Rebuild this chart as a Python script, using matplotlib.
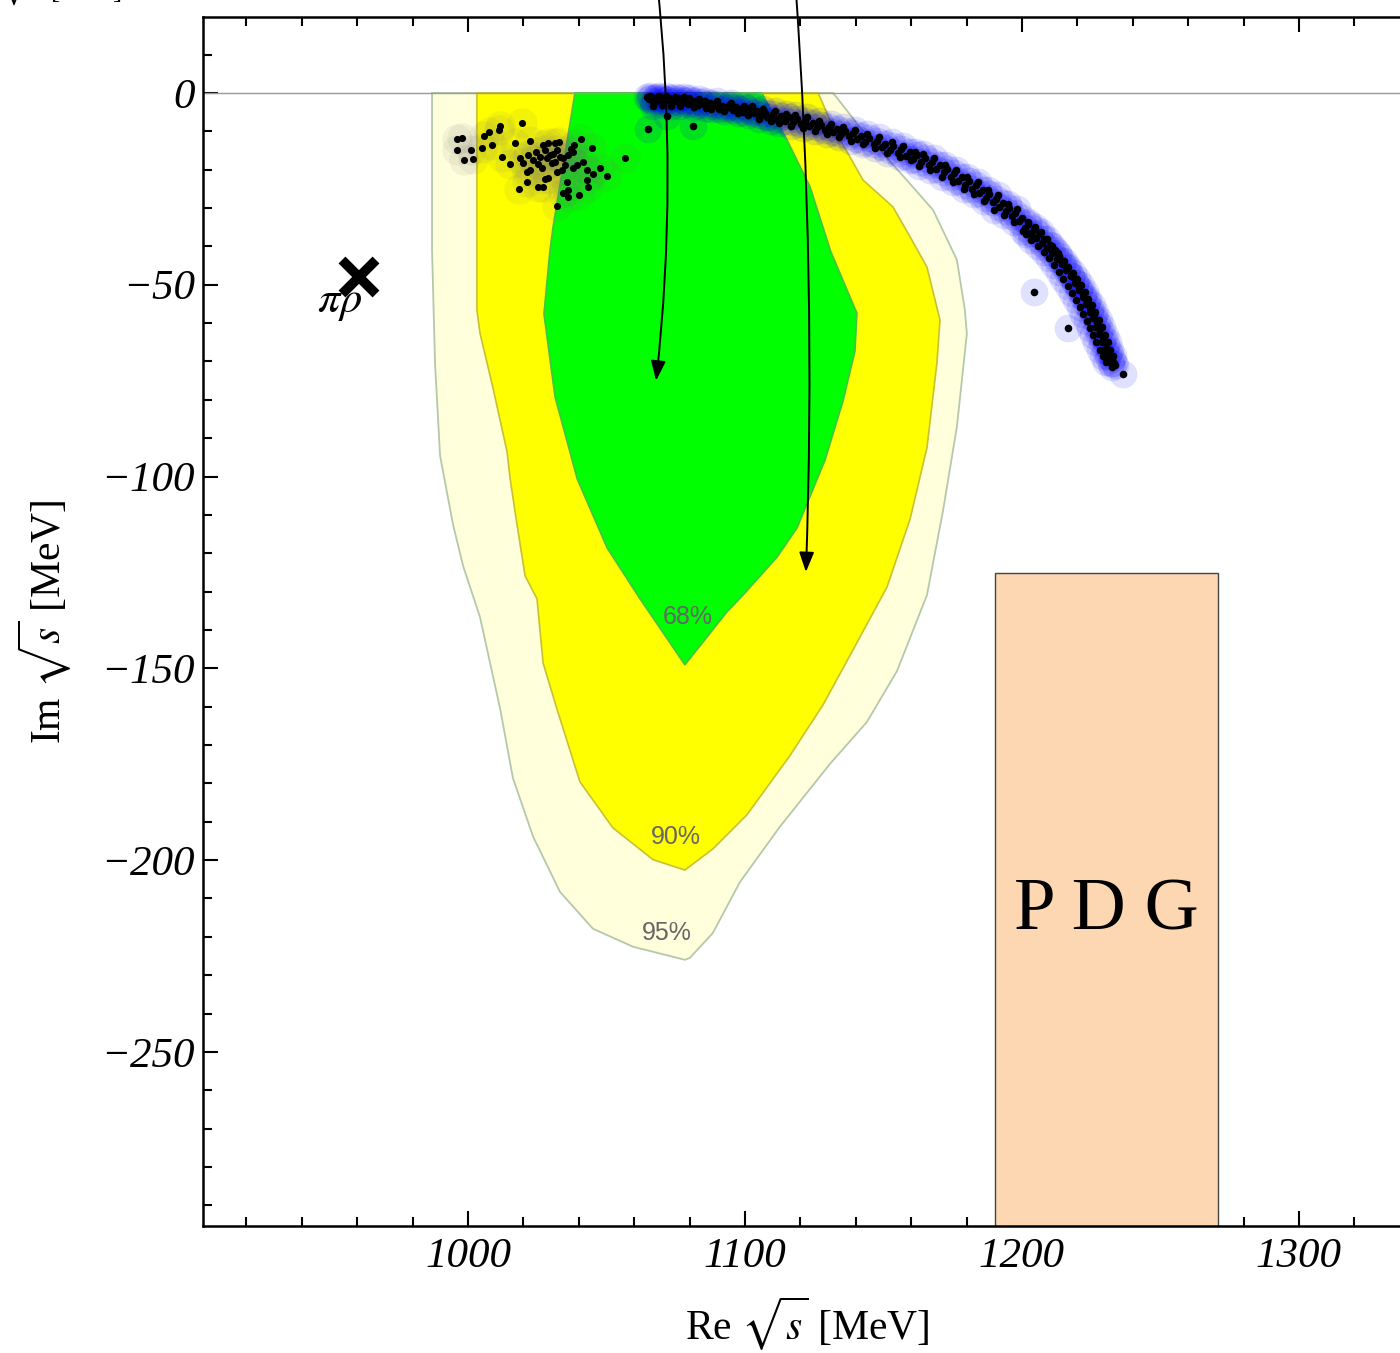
import matplotlib
matplotlib.use("Agg")
import matplotlib.pyplot as plt
from matplotlib.patches import Polygon, Rectangle
from matplotlib.ticker import MultipleLocator

plt.rcParams['font.family'] = ['Liberation Serif', 'DejaVu Serif']
plt.rcParams['mathtext.fontset'] = 'stix'

# confidence regions (Re, Im) in MeV
re_95 = [987.0, 987.0, 988.1, 989.9, 994.6, 998.2, 1004.3, 1011.6, 1016.2, 1023.5, 1033.2, 1045.1,
         1059.6, 1078.3, 1080.1, 1088.4, 1098.2, 1112.6, 1130.7, 1144.0, 1154.9, 1165.7, 1171.5,
         1176.5, 1180.1, 1179.4, 1176.5, 1167.9, 1141.5, 1131.8]
im_95 = [0, -40.9, -70.9, -94.6, -112.6, -123.3, -136.6, -160.6, -178.6, -193.9, -208.3, -217.9,
         -222.6, -226.0, -225.5, -219.0, -205.7, -191.3, -174.9, -164.0, -150.7, -130.9, -108.9,
         -87.1, -62.8, -56.6, -43.5, -30.5, -8.9, 0]

re_90 = [1003.2, 1003.2, 1004.3, 1009.0, 1014.1, 1015.2, 1017.7, 1020.6, 1024.9, 1027.1, 1032.1,
         1040.4, 1052.3, 1066.8, 1078.3, 1088.4, 1100.7, 1116.2, 1128.2, 1139.0, 1151.3, 1159.6,
         1165.7, 1169.3, 1170.4, 1165.7, 1159.6, 1153.4, 1142.6, 1131.8, 1126.4]
im_90 = [0, -56.6, -62.6, -76.9, -93.6, -100.6, -112.6, -125.9, -131.9, -148.6, -160.6, -179.6,
         -191.6, -199.9, -202.6, -197.1, -188.2, -172.8, -159.5, -145.2, -128.8, -111.1, -92.5,
         -70.4, -59.2, -45.4, -37.5, -29.7, -22.7, -8.9, 0]

re_68 = [1038.6, 1030.7, 1029.6, 1027.4, 1031.4, 1039.4, 1050.2, 1062.1, 1078.3, 1093.5, 1099.3,
         1111.6, 1118.8, 1128.9, 1135.4, 1139.7, 1140.4, 1131.0, 1123.5, 1115.2, 1106.1]
im_68 = [0, -34.9, -40.9, -57.6, -79.2, -100.6, -118.6, -131.9, -149.1, -135.3, -130.9,
         -121.0, -113.4, -95.7, -80.3, -67.3, -57.4, -41.4, -24.5, -12.3, 0]

region_labels = ['68%', '90%', '95%']
label_re = [1079.4, 1075.1, 1071.8]
label_im = [-136.6, -194.0, -219.0]

# pole positions from the fits: low-mass cluster
cluster_pts = [
    (995.9, -12.0), (997.9, -11.8), (995.9, -15.0), (1001.0, -15.0), (998.7, -17.5), (1001.9, -17.3),
    (1005.9, -11.1), (1007.6, -10.2), (1011.6, -8.5), (1011.2, -9.6), (1019.6, -7.9), (1005.2, -14.3),
    (1008.8, -13.6), (1012.2, -16.8), (1017.0, -13.1), (1022.4, -12.5), (1015.2, -18.5), (1018.8, -17.0),
    (1020.0, -18.3), (1021.8, -16.2), (1022.4, -20.1), (1021.2, -20.5), (1023.6, -17.5), (1025.4, -18.5),
    (1026.0, -16.6), (1027.2, -13.6), (1029.0, -13.1), (1027.8, -14.9), (1028.4, -17.0), (1029.6, -16.2),
    (1030.2, -18.3), (1031.4, -13.1), (1033.0, -12.7), (1032.0, -14.9), (1033.2, -16.6), (1031.4, -17.9),
    (1034.4, -17.0), (1035.0, -18.8), (1032.0, -20.5), (1033.8, -20.1), (1027.8, -22.4), (1029.0, -22.2),
    (1025.4, -24.4), (1027.2, -24.4), (1021.2, -23.3), (1018.4, -25.0), (1036.2, -16.2), (1038.0, -15.3),
    (1038.3, -13.6), (1040.7, -12.1), (1044.9, -14.3), (1041.6, -17.9), (1039.2, -18.8), (1038.0, -19.6),
    (1042.9, -20.1), (1045.0, -21.1), (1047.7, -19.5), (1050.1, -21.6), (1042.9, -22.7), (1035.6, -23.1),
    (1043.4, -24.4), (1036.0, -25.3), (1034.4, -26.1), (1036.2, -27.0), (1040.2, -26.6), (1032.0, -29.4),
    (1056.7, -17.0), (1024.5, -15.4), (1026.6, -19.6), (1030.8, -15.8), (1037.1, -14.5),
]

# pole positions from the fits: trajectory towards the a1 region
arc_pts = [
    (1064.5, -1.0), (1065.2, -1.6), (1066.0, -1.2), (1066.8, -2.0), (1067.5, -1.4), (1068.3, -1.1),
    (1069.0, -1.8), (1069.8, -1.3), (1070.5, -2.2), (1071.2, -1.5), (1072.0, -1.9), (1072.8, -1.2),
    (1073.5, -2.4), (1074.3, -1.6), (1075.1, -2.0), (1076.0, -1.4), (1076.8, -2.6), (1077.7, -1.8),
    (1078.5, -2.2), (1079.4, -3.0), (1080.2, -1.9), (1081.1, -2.5), (1082.0, -2.0), (1083.0, -3.2),
    (1084.0, -2.4), (1085.1, -2.9), (1086.0, -3.8), (1087.2, -2.6), (1088.3, -3.4), (1089.5, -2.8),
    (1090.6, -4.1), (1091.8, -3.3), (1093.0, -3.9), (1094.3, -3.1), (1095.5, -4.5), (1096.8, -3.7),
    (1098.0, -4.2), (1099.3, -5.0), (1100.5, -4.0), (1101.8, -4.7),
    (1065.1, -9.5), (1071.8, -6.0), (1081.2, -8.6), (1066.8, -3.4), (1094.6, -3.6), (1107.8, -6.2),
    (1065.8, -0.8), (1067.2, -2.6), (1068.9, -0.9), (1070.1, -3.1), (1071.6, -0.9), (1073.1, -3.4),
    (1074.8, -1.0), (1076.4, -3.3), (1077.9, -1.1), (1079.8, -1.4), (1081.5, -3.6), (1083.5, -1.6),
    (1085.6, -2.0), (1087.8, -4.3), (1090.0, -2.2), (1092.4, -4.8), (1094.8, -2.6), (1097.3, -5.2),
    (1099.8, -3.4), (1101.1, -5.8),
    (1103.2, -5.3), (1104.5, -4.6), (1105.9, -5.8), (1107.3, -5.1), (1108.6, -6.3), (1110.0, -5.5),
    (1111.5, -6.8), (1113.0, -6.0), (1114.4, -7.2), (1115.9, -6.4), (1117.3, -7.6), (1118.8, -6.9),
    (1120.2, -8.1), (1121.7, -7.3), (1123.1, -8.6), (1124.6, -7.8), (1126.0, -9.0), (1127.5, -8.3),
    (1129.0, -9.6), (1130.4, -8.8), (1131.9, -10.1), (1133.3, -9.3), (1134.8, -10.7), (1136.2, -9.9),
    (1137.7, -11.3), (1139.1, -10.5), (1140.6, -12.0), (1142.0, -11.1), (1143.5, -12.7), (1144.9, -11.8),
    (1146.4, -13.4), (1147.8, -12.5), (1149.3, -14.1), (1150.7, -13.2), (1152.2, -14.9), (1153.6, -13.9),
    (1155.1, -15.7), (1156.5, -14.6), (1158.0, -16.5), (1159.4, -15.4),
    (1102.6, -3.5), (1105.2, -6.9), (1106.6, -4.3), (1109.3, -7.4), (1110.8, -4.6), (1112.2, -7.9),
    (1114.9, -5.5), (1116.6, -8.6), (1118.1, -5.8), (1120.9, -9.2), (1122.4, -6.3), (1125.3, -9.9),
    (1126.8, -7.2), (1129.7, -10.7), (1131.2, -8.0), (1134.0, -11.6), (1135.5, -8.9), (1138.4, -12.4),
    (1139.8, -9.6), (1142.7, -13.4), (1144.2, -10.7), (1147.1, -14.4), (1148.5, -11.6), (1151.4, -15.6),
    (1152.9, -12.8), (1155.8, -16.8), (1157.2, -13.8), (1159.9, -17.6),
    (1160.8, -17.2), (1162.2, -16.1), (1163.6, -18.0), (1165.0, -17.0), (1166.3, -18.9), (1167.7, -17.9),
    (1169.0, -19.8), (1170.4, -18.8), (1171.7, -20.7), (1173.0, -19.9), (1174.3, -21.9), (1175.6, -20.8),
    (1176.9, -22.9), (1178.2, -21.9), (1179.5, -24.0), (1180.8, -23.0), (1182.0, -25.1), (1183.3, -24.1),
    (1184.5, -26.2), (1185.8, -25.2), (1187.0, -27.3), (1188.2, -26.4), (1189.4, -28.5), (1190.6, -27.6),
    (1191.8, -29.7), (1193.0, -28.8), (1194.2, -30.9), (1195.3, -30.0), (1196.5, -32.1), (1197.6, -31.2),
    (1198.8, -33.4), (1199.9, -32.5),
    (1161.5, -15.3), (1163.0, -19.0), (1164.3, -15.9), (1166.9, -20.1), (1168.3, -16.9), (1171.0, -21.9),
    (1172.3, -18.8), (1175.0, -23.2), (1176.3, -20.0), (1179.0, -25.1), (1180.2, -21.9), (1182.7, -26.4),
    (1184.0, -23.2), (1186.4, -28.3), (1187.6, -25.4), (1190.0, -30.4), (1191.2, -26.6), (1193.6, -31.7),
    (1194.8, -28.9), (1197.1, -33.6), (1198.2, -30.3), (1200.5, -36.0),
    (1201.0, -35.1), (1202.1, -34.2), (1203.2, -36.4), (1204.2, -35.5), (1205.2, -37.8), (1206.2, -36.8),
    (1207.2, -39.1), (1208.1, -38.2), (1209.1, -40.4), (1210.0, -39.6), (1210.9, -41.8), (1211.8, -41.0),
    (1212.7, -43.2), (1213.5, -42.4), (1214.4, -44.6), (1215.2, -43.9), (1216.0, -46.1), (1216.8, -45.4),
    (1217.6, -47.6), (1218.4, -46.9), (1219.1, -49.2), (1219.9, -48.5), (1220.6, -50.8), (1221.3, -50.1),
    (1222.0, -52.5), (1222.7, -51.8), (1223.4, -54.2), (1224.0, -53.6), (1224.7, -56.0), (1225.3, -55.4),
    (1225.9, -57.8), (1226.5, -57.2), (1227.1, -59.7), (1227.7, -59.1), (1228.2, -61.6), (1228.8, -61.0),
    (1229.3, -63.5), (1229.9, -63.0), (1230.4, -65.5), (1230.9, -65.0), (1231.4, -67.5), (1231.9, -67.0),
    (1232.4, -69.3), (1232.8, -68.6), (1233.2, -70.3),
    (1202.3, -33.6), (1201.5, -36.8), (1204.6, -34.9), (1203.4, -38.3), (1206.9, -36.3), (1205.8, -39.9),
    (1209.0, -38.0), (1207.9, -41.5), (1211.0, -39.9), (1209.8, -43.0), (1212.9, -41.8), (1211.6, -44.9),
    (1214.6, -43.8), (1213.3, -46.6), (1216.2, -45.7), (1215.0, -48.4), (1217.8, -47.6), (1216.6, -50.3),
    (1219.2, -49.5), (1218.2, -52.1), (1220.6, -51.3), (1219.6, -54.0), (1221.9, -53.3), (1220.9, -55.9),
    (1223.2, -55.0), (1222.2, -57.6), (1224.4, -57.0), (1223.4, -59.4), (1225.6, -58.8), (1224.6, -61.3),
    (1226.8, -60.9), (1225.8, -63.2), (1227.9, -62.8), (1226.9, -65.0), (1229.0, -64.9), (1228.0, -66.9),
    (1230.1, -66.9), (1229.2, -68.6), (1231.1, -68.7), (1230.3, -70.2), (1232.0, -70.4), (1233.6, -71.0),
    (1232.6, -71.5),
    (1204.4, -52.0), (1216.5, -61.2), (1236.6, -73.3),
]

# threshold marker
pirho_re, pirho_im = 960.6, -48.0

# PDG box: mass 1230 +- 40, width 250..600 -> Im = -Gamma/2
pdg_re = [1190.3, 1270.8]
pdg_im = [-300.0, -125.1]

# arrows coming in from above (start, tip)
arrow_start_re = [1068.2, 1118.1]
arrow_start_im = [29.5, 29.5]
arrow_tip_re = [1067.9, 1122.0]
arrow_tip_im = [-75.0, -124.9]
arrow_rad = [-0.055, -0.027]

xticks = [1000, 1100, 1200, 1300]
yticks = [0, -50, -100, -150, -200, -250]
ytick_labels = ['0', '\u221250', '\u2212100', '\u2212150', '\u2212200', '\u2212250']

W, H = 1400, 1353
fig = plt.figure(figsize=(W / 100, H / 100), dpi=100)
ax = fig.add_axes([203 / W, 127 / H, 1197 / W, 1209 / H])
ax.set_xlim(904.3, 1336.5)
ax.set_ylim(-295.4, 19.8)

# regions, outer to inner
ax.add_patch(Polygon(list(zip(re_95, im_95)), closed=True, facecolor='#FFFFDC',
                     edgecolor='#B4C8AA', lw=1.3, zorder=1))
ax.add_patch(Polygon(list(zip(re_90, im_90)), closed=True, facecolor='#FFFF00',
                     edgecolor='#C8C036', lw=1.2, zorder=1.1))
ax.add_patch(Polygon(list(zip(re_68, im_68)), closed=True, facecolor='#00FF00',
                     edgecolor='#48C048', lw=1.2, zorder=1.2))
for txt, lx, ly in zip(region_labels, label_re, label_im):
    ax.text(lx, ly, txt, fontsize=18, color='#666666', family='Liberation Sans',
            ha='center', va='center', zorder=2)

ax.axhline(0, color='#999999', lw=1.0, zorder=2)

ax.add_patch(Rectangle((pdg_re[0], pdg_im[0]), pdg_re[1] - pdg_re[0], pdg_im[1] - pdg_im[0],
                       facecolor='#FDD7B2', edgecolor='#444444', lw=1.0, zorder=2))
ax.text(sum(pdg_re) / 2, -218.2, 'P D G', fontsize=54, ha='center', va='baseline', zorder=3)

cx, cy = zip(*cluster_pts)
ax.scatter(cx, cy, s=480, color='#707070', alpha=0.08, linewidths=0, zorder=3)
ax.scatter(cx, cy, s=26, color='black', linewidths=0, zorder=4)

axx, ayy = zip(*arc_pts)
ax.scatter(axx, ayy, s=400, color='#0000FF', alpha=0.12, linewidths=0, zorder=3)
ax.scatter(axx, ayy, s=30, color='black', linewidths=0, zorder=4)

ax.plot([pirho_re], [pirho_im], marker='x', ms=25, mew=7, color='black', zorder=5)
ax.text(pirho_re - 6.8, -57.1, r'$\pi\rho$', fontsize=32, ha='center', va='baseline', zorder=5)

for sx, sy, tx, ty, rad in zip(arrow_start_re, arrow_start_im, arrow_tip_re, arrow_tip_im, arrow_rad):
    ax.annotate('', xy=(tx, ty), xytext=(sx, sy), annotation_clip=False,
                arrowprops=dict(arrowstyle='-|>,head_length=0.8,head_width=0.3', mutation_scale=15,
                                color='black', lw=1.4, shrinkA=0, shrinkB=0,
                                connectionstyle=f'arc3,rad={rad}'), zorder=6)

# axes styling
ax.spines['right'].set_visible(False)
for side in ['left', 'bottom', 'top']:
    ax.spines[side].set_linewidth(1.8)
ax.set_xticks(xticks)
ax.set_xticklabels([str(v) for v in xticks], fontstyle='italic', fontsize=31)
ax.set_yticks(yticks)
ax.set_yticklabels(ytick_labels, fontstyle='italic', fontsize=31)
ax.xaxis.set_minor_locator(MultipleLocator(20))
ax.yaxis.set_minor_locator(MultipleLocator(10))
ax.tick_params(which='both', direction='in', top=True, right=False, width=1.5)
ax.tick_params(which='major', length=11)
ax.tick_params(which='minor', length=6.5)
ax.tick_params(axis='x', pad=8)
ax.tick_params(axis='y', pad=6)

fig.text(807 / W, 1 - 1324 / H, r'Re $\sqrt{s}$ [MeV]', fontsize=30, ha='center', va='center')
fig.text(45 / W, 1 - 622 / H, r'Im $\sqrt{s}$ [MeV]', fontsize=30, rotation=90,
         ha='center', va='center')
# label of the panel above, mostly cut off
fig.text(0.0, 1 + 1 / H, r'$\sqrt{s}$ [GeV]', fontsize=20, ha='left', va='baseline')

fig.savefig('out.png', dpi=100)
